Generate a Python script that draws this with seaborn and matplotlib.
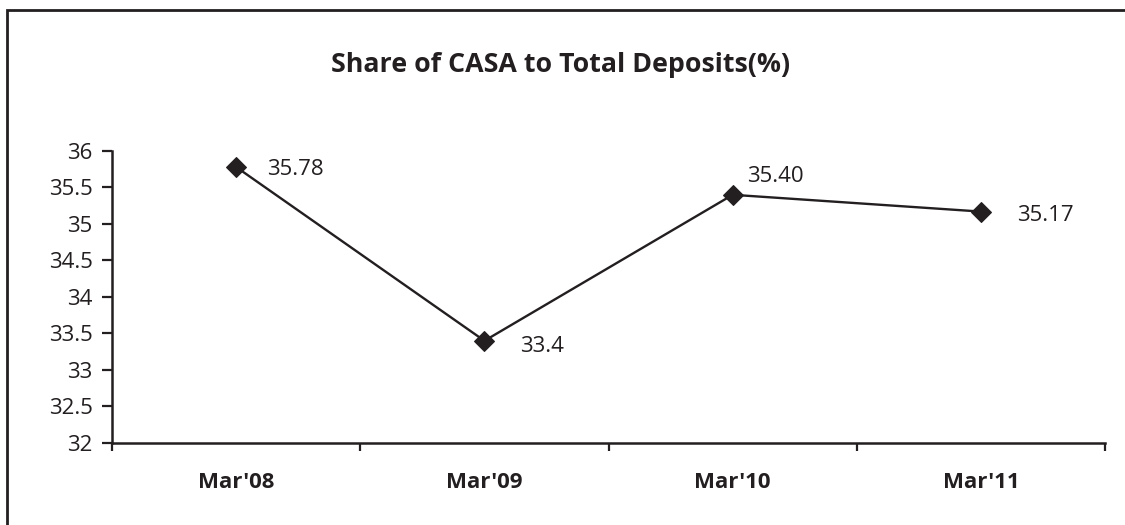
import matplotlib
matplotlib.use("Agg")
import matplotlib.pyplot as plt
from matplotlib.patches import Rectangle
from matplotlib.ticker import FixedLocator
import seaborn as sns
import pandas as pd

# ---- data ----
categories = ["Mar'08", "Mar'09", "Mar'10", "Mar'11"]
values = [35.78, 33.4, 35.40, 35.17]
value_labels = ["35.78", "33.4", "35.40", "35.17"]
title = "Share of CASA to Total Deposits(%)"
y_ticks = [32, 32.5, 33, 33.5, 34, 34.5, 35, 35.5, 36]

# label offsets (points) relative to each marker
label_offsets = [(22, -2), (26, -4), (10, 13), (26, -3)]

INK = "#231f20"

sns.set_theme(style="white")
plt.rcParams["font.family"] = ["Open Sans", "DejaVu Sans"]

fig = plt.figure(figsize=(11.25, 5.25), dpi=100)
ax = fig.add_axes([0.0996, 0.1562, 0.8827, 0.5562])

df = pd.DataFrame({"cat": categories, "val": values})
df["pos"] = range(len(categories))
sns.lineplot(data=df, x="pos", y="val", ax=ax, color=INK, linewidth=1.7,
             marker="D", markersize=10.5, markeredgecolor=INK,
             markerfacecolor=INK, sort=False)

for i, (v, lab) in enumerate(zip(values, value_labels)):
    ax.annotate(lab, (i, v), xytext=label_offsets[i], textcoords="offset points",
                ha="left", va="center", fontsize=16, color=INK)

ax.set_xlim(-0.5, len(categories) - 0.5)
ax.set_ylim(y_ticks[0], y_ticks[-1])
ax.set_yticks(y_ticks)
ax.set_yticklabels([f"{t:g}" for t in y_ticks], fontsize=16, color=INK)

ax.set_xticks(range(len(categories)))
ax.set_xticklabels(categories, fontsize=16, fontweight="bold", color=INK)
ax.xaxis.set_minor_locator(FixedLocator([i - 0.5 for i in range(len(categories) + 1)]))
ax.tick_params(axis="x", which="major", length=0, pad=21)
ax.tick_params(axis="x", which="minor", length=6, width=1.6, color=INK, direction="out", bottom=True)
ax.tick_params(axis="y", which="major", length=7, width=1.6, color=INK, direction="out", pad=7, left=True)

ax.set_xlabel("")
ax.set_ylabel("")
for side in ["top", "right"]:
    ax.spines[side].set_visible(False)
for side in ["left", "bottom"]:
    ax.spines[side].set_visible(True)
    ax.spines[side].set_color(INK)
    ax.spines[side].set_linewidth(1.8)
ax.grid(False)
ax.set_facecolor("white")

fig.text(0.498, 0.876, title, ha="center", va="center", fontsize=19.3,
         fontweight="bold", color=INK)

border = Rectangle((7 / 1125, -0.05), 1.2, 1 - 10 / 525 + 0.05,
                   transform=fig.transFigure, fill=False, edgecolor=INK,
                   linewidth=2, clip_on=False)
fig.patches.append(border)

fig.savefig("out.png", dpi=100, facecolor="white")
